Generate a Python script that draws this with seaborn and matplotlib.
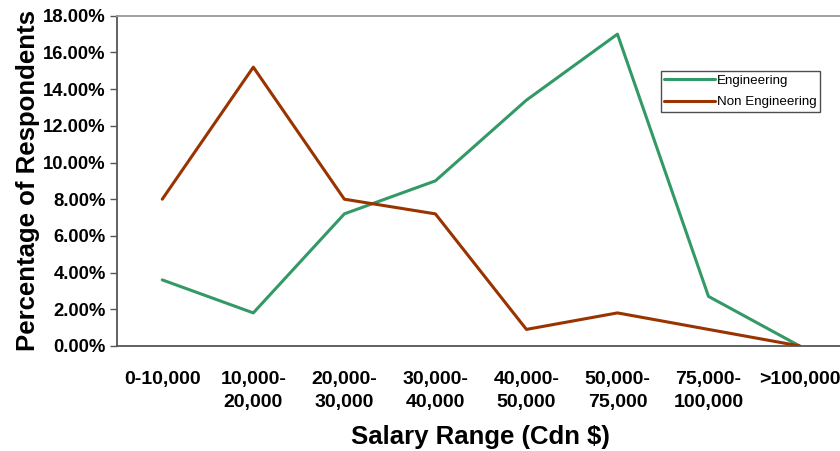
import matplotlib
matplotlib.use("Agg")
import matplotlib.pyplot as plt
from matplotlib.ticker import FuncFormatter, FixedLocator
import seaborn as sns
import pandas as pd

# Salary bands (two-line labels for the x axis)
salary_ranges = ["0-10,000", "10,000-\n20,000", "20,000-\n30,000", "30,000-\n40,000",
                 "40,000-\n50,000", "50,000-\n75,000", "75,000-\n100,000", ">100,000"]
# Share of respondents in each band (%)
engineering = [3.6, 1.8, 7.2, 9.0, 13.4, 17.0, 2.7, 0.0]
non_engineering = [8.0, 15.2, 8.0, 7.2, 0.9, 1.8, 0.9, 0.0]
series_names = ["Engineering", "Non Engineering"]

rows = []
for i, label in enumerate(salary_ranges):
    rows.append({"pos": i, "band": label, "series": series_names[0], "pct": engineering[i]})
    rows.append({"pos": i, "band": label, "series": series_names[1], "pct": non_engineering[i]})
df = pd.DataFrame(rows)

sns.set_theme(style="white")
plt.rcParams["font.family"] = ["Liberation Sans", "DejaVu Sans"]
plt.rcParams["text.color"] = "black"
plt.rcParams["axes.labelcolor"] = "black"
plt.rcParams["xtick.labelcolor"] = "black"
plt.rcParams["ytick.labelcolor"] = "black"

fig = plt.figure(figsize=(8.4, 4.51), dpi=100)
ax = fig.add_axes([0.139, 0.233, 0.867, 0.732])

palette = {"Engineering": "#339966", "Non Engineering": "#993300"}
sns.lineplot(data=df, x="pos", y="pct", hue="series", palette=palette,
             linewidth=2.2, ax=ax, legend=True)

ax.set_xlim(-0.5, 7.5)
ax.set_ylim(0, 18)
ax.set_yticks(range(0, 19, 2))
ax.yaxis.set_major_formatter(FuncFormatter(lambda v, p: f"{v:.2f}%"))

# Category labels centred, tick marks on category boundaries
ax.xaxis.set_major_locator(FixedLocator(range(len(salary_ranges))))
ax.set_xticklabels(salary_ranges, fontsize=14, fontweight="bold", linespacing=1.5)
ax.xaxis.set_minor_locator(FixedLocator([i - 0.5 for i in range(len(salary_ranges) + 1)]))
ax.tick_params(axis="x", which="major", length=0, pad=18)
ax.tick_params(axis="x", which="minor", length=5, width=1, color="#555555", direction="out")
ax.tick_params(axis="y", which="major", length=5, width=1, color="#555555", direction="out",
               left=True, labelsize=13.3, pad=3)
for lbl in ax.get_yticklabels():
    lbl.set_fontweight("bold")

ax.set_xlabel("Salary Range (Cdn $)", fontsize=18.5, fontweight="bold", labelpad=10)
ax.set_ylabel("Percentage of Respondents", fontsize=18.5, fontweight="bold", labelpad=2)

for side in ("left", "bottom"):
    ax.spines[side].set_color("#555555")
    ax.spines[side].set_linewidth(1.3)
ax.spines["top"].set_color("#999999")
ax.spines["top"].set_linewidth(1.3)
ax.spines["right"].set_visible(False)

leg = ax.legend(loc="upper left", bbox_to_anchor=(0.7475, 0.833), frameon=True, fancybox=False,
                edgecolor="#222222", fontsize=9.6, handlelength=3.8, handletextpad=0.15,
                borderpad=0.25, labelspacing=0.7, borderaxespad=0)
leg.get_frame().set_linewidth(1.0)
leg.set_title(None)

fig.savefig("out.png", dpi=100)
